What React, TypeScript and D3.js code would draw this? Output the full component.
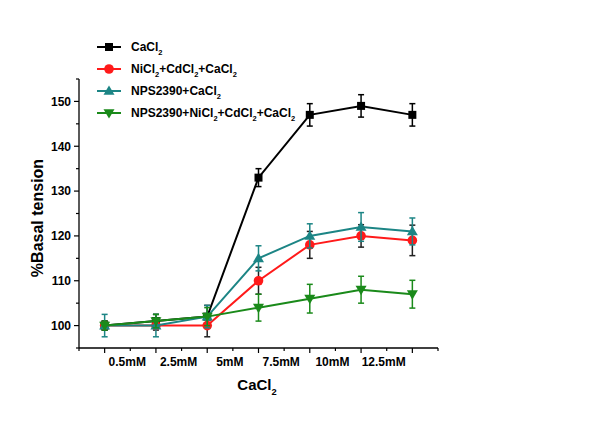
import React from "react";
import * as d3 from "d3";

const categories = ["0.5mM", "2.5mM", "5mM", "7.5mM", "10mM", "12.5mM"];
const pointIndex = [0, 1, 2, 3, 4, 5, 6];
const yTicks = [100, 110, 120, 130, 140, 150];

const caValues = [100, 101, 102, 133, 147, 149, 147];
const caErrors = [1, 1.5, 2.5, 2, 2.5, 2.5, 2.5];
const niValues = [100, 100, 100, 110, 118, 120, 119];
const niErrors = [1, 1, 2.5, 3, 3, 2.5, 3.4];
const npsValues = [100, 100, 102, 115, 120, 122, 121];
const npsErrors = [2.5, 2.5, 2.5, 2.8, 2.7, 3.2, 3];
const npsNiValues = [100, 101, 102, 104, 106, 108, 107];
const npsNiErrors = [1, 1.5, 2, 3, 3.2, 3, 3.1];

type Series = {
  name: string[];
  values: number[];
  errors: number[];
  color: string;
  errColor: string;
  marker: "square" | "circle" | "up" | "down";
};

const series: Series[] = [
  { name: ["CaCl", "2"], values: caValues, errors: caErrors, color: "#000000", errColor: "#000000", marker: "square" },
  { name: ["NiCl", "2", "+CdCl", "2", "+CaCl", "2"], values: niValues, errors: niErrors, color: "#ff1a1a", errColor: "#222222", marker: "circle" },
  { name: ["NPS2390+CaCl", "2"], values: npsValues, errors: npsErrors, color: "#1c8585", errColor: "#1c8585", marker: "up" },
  { name: ["NPS2390+NiCl", "2", "+CdCl", "2", "+CaCl", "2"], values: npsNiValues, errors: npsNiErrors, color: "#1a8a1a", errColor: "#1a8a1a", marker: "down" },
];

const FONT = "'Liberation Sans', Arial, sans-serif";

function Marker({ type, x, y, color }: { type: string; x: number; y: number; color: string }) {
  if (type === "square") return <rect x={x - 4} y={y - 4} width={8} height={8} fill={color} />;
  if (type === "circle") return <circle cx={x} cy={y} r={4.8} fill={color} />;
  if (type === "up") {
    const s = 5.5;
    return <path d={`M${x},${y - s} L${x + s},${y + s * 0.7} L${x - s},${y + s * 0.7} Z`} fill={color} />;
  }
  const s = 5.5;
  return <path d={`M${x},${y + s} L${x + s},${y - s * 0.7} L${x - s},${y - s * 0.7} Z`} fill={color} />;
}

function SubText({ parts, x, y, size, anchor, transform }: { parts: string[]; x: number; y: number; size: number; anchor?: string; transform?: string }) {
  return (
    <text x={x} y={y} fontFamily={FONT} fontWeight="bold" fontSize={size} textAnchor={anchor || "start"} transform={transform}>
      {parts.map((p, i) =>
        i % 2 === 1 ? (
          <tspan key={i} fontSize={size * 0.62} dy={size * 0.3}>{p}</tspan>
        ) : (
          <tspan key={i} dy={i === 0 ? 0 : -size * 0.3}>{p}</tspan>
        )
      )}
    </text>
  );
}

export default function App() {
  const W = 600, H = 425;
  const x = d3.scaleLinear().domain([-0.5, 6.5]).range([79, 438]);
  const y = d3.scaleLinear().domain([95, 155]).range([348, 79]);
  const line = d3.line<number>().x((_, i) => x(pointIndex[i])).y((v) => y(v));
  const minorX = d3.range(-0.5, 6.51, 0.5);
  const minorY = d3.range(95, 155.1, 5);

  return (
    <svg width={W} height={H} style={{ position: "absolute", left: 0, top: 0, background: "#fff" }}>
      {/* axes */}
      <line x1={79} x2={79} y1={y(155)} y2={y(95)} stroke="#000" strokeWidth={1.3} />
      <line x1={79} x2={438} y1={348} y2={348} stroke="#000" strokeWidth={1.3} />
      {minorY.map((t) => (
        <line key={"yt" + t} x1={79} x2={t % 10 === 0 ? 74 : 76} y1={y(t)} y2={y(t)} stroke="#000" strokeWidth={1.2} />
      ))}
      {yTicks.map((t) => (
        <text key={"yl" + t} x={71} y={y(t) + 4.3} textAnchor="end" fontFamily={FONT} fontWeight="bold" fontSize={12}>{t}</text>
      ))}
      {minorX.map((t) => (
        <line key={"xt" + t} x1={x(t)} x2={x(t)} y1={348} y2={Number.isInteger(t) ? 353 : 351} stroke="#000" strokeWidth={1.2} />
      ))}
      {categories.map((c, i) => (
        <text key={"xl" + c} x={x(i + 0.5) - 3} y={366} textAnchor="middle" fontFamily={FONT} fontWeight="bold" fontSize={12}>{c}</text>
      ))}
      <SubText parts={["CaCl", "2"]} x={257} y={390} size={15} anchor="middle" />
      <text x={0} y={0} transform={`translate(43,218) rotate(-90)`} textAnchor="middle" fontFamily={FONT} fontWeight="bold" fontSize={16}>%Basal tension</text>

      {/* series */}
      {series.map((s, si) => (
        <g key={"s" + si}>
          <path d={line(s.values) || ""} fill="none" stroke={s.color} strokeWidth={2} />
          {s.values.map((v, i) => {
            const cx = x(pointIndex[i]);
            const e = s.errors[i];
            return (
              <g key={i} stroke={s.errColor} strokeWidth={1.5}>
                <line x1={cx} x2={cx} y1={y(v - e)} y2={y(v + e)} />
                <line x1={cx - 3} x2={cx + 3} y1={y(v - e)} y2={y(v - e)} />
                <line x1={cx - 3} x2={cx + 3} y1={y(v + e)} y2={y(v + e)} />
              </g>
            );
          })}
          {s.values.map((v, i) => (
            <Marker key={"m" + i} type={s.marker} x={x(pointIndex[i])} y={y(v)} color={s.color} />
          ))}
        </g>
      ))}

      {/* legend */}
      {series.map((s, si) => {
        const ly = 47 + si * 22;
        return (
          <g key={"lg" + si}>
            <line x1={97} x2={121} y1={ly} y2={ly} stroke={s.color} strokeWidth={2} />
            <Marker type={s.marker} x={109} y={ly} color={s.color} />
            <SubText parts={s.name} x={131} y={ly + 4.3} size={12} />
          </g>
        );
      })}
    </svg>
  );
}
